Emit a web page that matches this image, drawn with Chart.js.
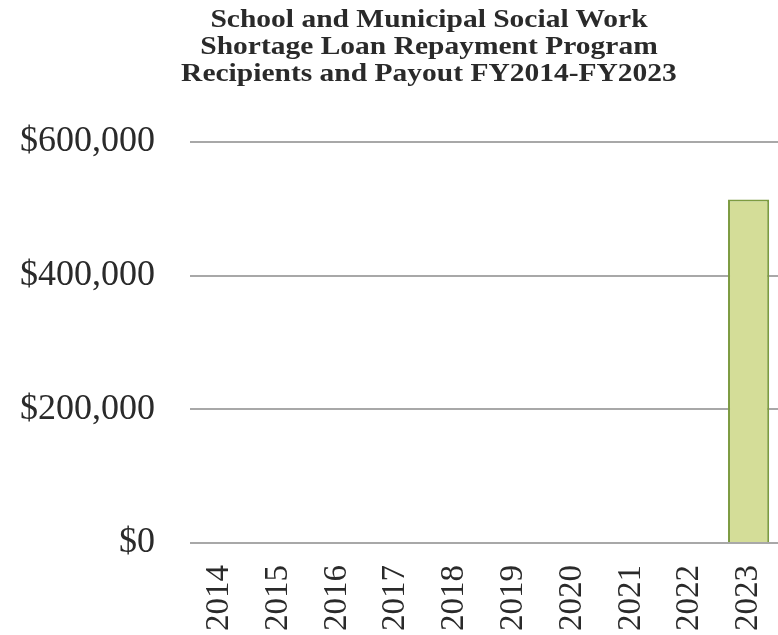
<!DOCTYPE html>
<html>
<head>
<meta charset="utf-8">
<script src="https://cdn.jsdelivr.net/npm/chart.js@4/dist/chart.umd.min.js"></script>
<style>
  html, body { margin: 0; padding: 0; background: #fff; }
  #wrap { position: relative; width: 778px; height: 635px; overflow: hidden; }
  #title { position: absolute; left: 129px; width: 600px; top: 5px; text-align: center;
    font-family: "Liberation Serif", "Times New Roman", serif; font-weight: bold;
    font-size: 25px; line-height: 27px; color: #2a2a2a;
    transform: scaleX(1.18); transform-origin: 300px 0; }
  canvas { position: absolute; left: 0; top: 0; }
</style>
</head>
<body>
<div id="wrap">
  <canvas id="c" width="778" height="635"></canvas>
  <div id="title">School and Municipal Social Work<br>Shortage Loan Repayment Program<br>Recipients and Payout FY2014-FY2023</div>
</div>
<script>
const categories = ['2014','2015','2016','2017','2018','2019','2020','2021','2022','2023'];
const payout = [0, 0, 0, 0, 0, 0, 0, 0, 0, 514000];
const yTickValues = [0, 200000, 400000, 600000];
const yTickLabels = ['$0', '$200,000', '$400,000', '$600,000'];

new Chart(document.getElementById('c'), {
  type: 'bar',
  data: {
    labels: categories,
    datasets: [{
      data: payout,
      backgroundColor: 'rgb(212,221,152)',
      borderColor: 'rgb(125,155,65)',
      borderWidth: 2,
      barPercentage: 0.7,
      categoryPercentage: 1.0
    }]
  },
  options: {
    responsive: false,
    animation: false,
    layout: { padding: { top: 142, right: 0, bottom: 0, left: 0 } },
    plugins: { legend: { display: false }, title: { display: false }, tooltip: { enabled: false } },
    scales: {
      x: {
        afterFit: (s) => { s.paddingLeft = 0; s.paddingRight = 0; s.height = 92; },
        grid: { display: false },
        border: { display: false },
        ticks: {
          minRotation: 90, maxRotation: 90, padding: 14,
          color: '#2a2a2a',
          font: { family: 'Liberation Serif', size: 33 }
        }
      },
      y: {
        min: 0, max: 600000,
        afterBuildTicks: (s) => { s.ticks = yTickValues.map(v => ({ value: v })); },
        afterFit: (s) => { s.width = 190; s.paddingTop = 0; s.paddingBottom = 0; },
        grid: { color: '#a8a8a8', lineWidth: 2, drawTicks: false },
        border: { display: false },
        ticks: {
          padding: 35,
          color: '#2a2a2a',
          font: { family: 'Liberation Serif', size: 36 },
          callback: (v) => { const i = yTickValues.indexOf(v); return i >= 0 ? yTickLabels[i] : ''; }
        }
      }
    }
  }
});
</script>
</body>
</html>
